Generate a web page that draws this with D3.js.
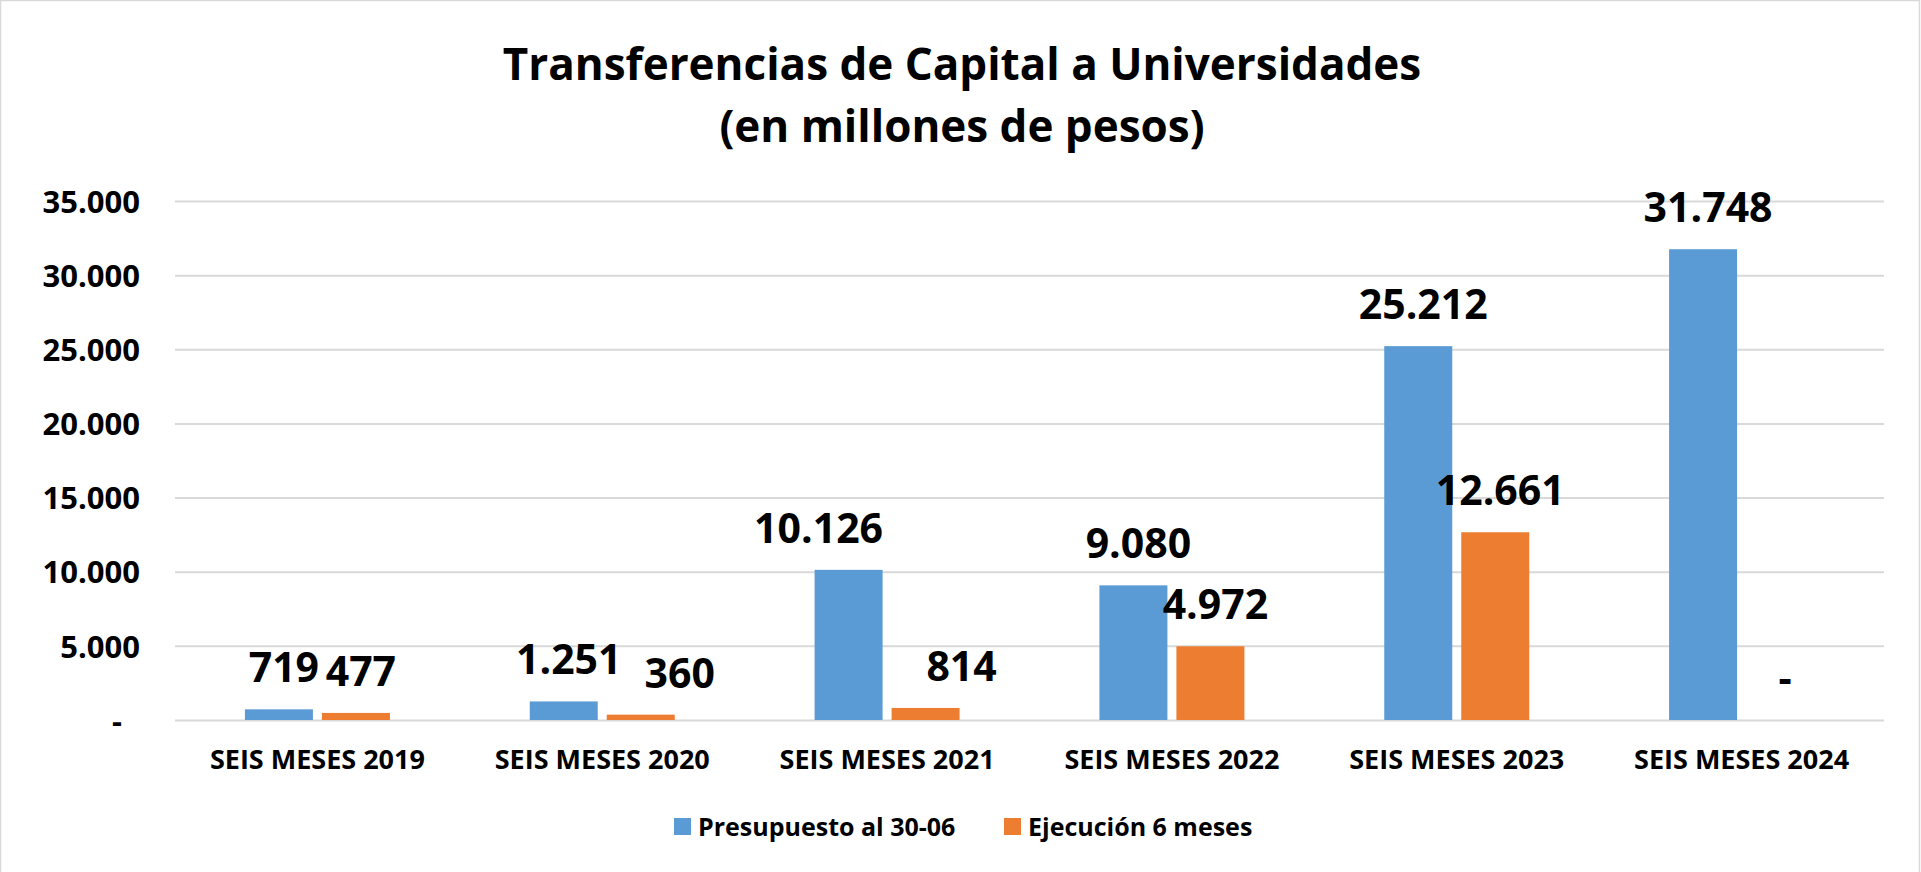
<!DOCTYPE html>
<html>
<head>
<meta charset="utf-8">
<script src="https://cdn.jsdelivr.net/npm/d3@7"></script>
<style>
  html, body { margin: 0; padding: 0; background: #fff; }
  svg { display: block; }
  text { font-family: "Open Sans", "Noto Sans", sans-serif; font-weight: 700; fill: #000; }
</style>
</head>
<body>
<svg id="chart" width="1921" height="872"></svg>
<script>
// ---- Data ----
const categories = ["SEIS MESES 2019", "SEIS MESES 2020", "SEIS MESES 2021", "SEIS MESES 2022", "SEIS MESES 2023", "SEIS MESES 2024"];
const seriesNames = ["Presupuesto al 30-06", "Ejecución 6 meses"];
const presupuesto = [719, 1251, 10126, 9080, 25212, 31748];
const ejecucion = [477, 360, 814, 4972, 12661, 0];
const yTicks = [0, 5000, 10000, 15000, 20000, 25000, 30000, 35000];
const titleLines = ["Transferencias de Capital a Universidades", "(en millones de pesos)"];

// ---- Layout / style ----
const W = 1921, H = 872;
const plot = { left: 175, right: 1884, top: 201, bottom: 720 };
const colors = ["#5B9BD5", "#ED7D31"];
// manual label nudges (as in the original, where some labels were dragged)
const labelNudge = { "1-1": 34, "2-0": -35, "2-1": 31 };

const svg = d3.select("#chart");
svg.append("rect").attr("x", 0.5).attr("y", 0.5).attr("width", W - 2).attr("height", H + 10)
  .attr("fill", "#fff").attr("stroke", "#D9D9D9").attr("stroke-width", 1.5);

const locale = d3.formatLocale({ decimal: ",", thousands: ".", grouping: [3], currency: ["$", ""] });
const fmt = v => v === 0 ? "-" : locale.format(",.0f")(v);

const x0 = d3.scaleBand().domain(categories).range([plot.left, plot.right]).paddingInner(0).paddingOuter(0);
const x1 = d3.scaleBand().domain([0, 1]).range([x0.bandwidth() / 2 - 72.5, x0.bandwidth() / 2 + 72.5]).paddingInner(0.117);
const y = d3.scaleLinear().domain([0, 35000]).range([plot.bottom, plot.top]);

// Gridlines
const grid = svg.append("g")
  .attr("transform", `translate(${plot.left},0)`)
  .call(d3.axisLeft(y).tickValues(yTicks).tickSize(-(plot.right - plot.left)).tickFormat(""));
grid.select(".domain").remove();
grid.selectAll(".tick line").attr("stroke", "#D9D9D9").attr("stroke-width", 2);

// Y axis labels
const yAxis = svg.append("g")
  .attr("transform", `translate(${plot.left - 35},0)`)
  .call(d3.axisLeft(y).tickValues(yTicks).tickSize(0).tickPadding(0).tickFormat(fmt));
yAxis.select(".domain").remove();
yAxis.selectAll(".tick text")
  .attr("font-size", 31)
  .attr("font-family", "'Open Sans', sans-serif")
  .attr("font-weight", 700)
  .attr("fill", "#000")
  .attr("dx", d => d === 0 ? -18 : 0)
  .attr("dy", "0.36em");

// X axis labels
const xAxis = svg.append("g")
  .attr("transform", `translate(0,${plot.bottom})`)
  .call(d3.axisBottom(x0).tickSize(0).tickPadding(0));
xAxis.select(".domain").remove();
xAxis.selectAll(".tick text")
  .attr("font-size", 27)
  .attr("font-family", "'Open Sans', sans-serif")
  .attr("font-weight", 700)
  .attr("fill", "#000")
  .attr("dy", 0)
  .attr("y", 49);

// Bars
const rows = categories.map((c, i) => ({ cat: c, i, vals: [presupuesto[i], ejecucion[i]] }));
const groups = svg.append("g").selectAll("g").data(rows).join("g")
  .attr("transform", d => `translate(${x0(d.cat)},0)`);

groups.selectAll("rect").data(d => d.vals.map((v, s) => ({ v, s, i: d.i }))).join("rect")
  .attr("x", d => x1(d.s))
  .attr("width", x1.bandwidth())
  .attr("y", d => y(d.v))
  .attr("height", d => y(0) - y(d.v))
  .attr("fill", d => colors[d.s]);

// Data labels
groups.selectAll("text.lbl").data(d => d.vals.map((v, s) => ({ v, s, i: d.i }))).join("text")
  .attr("class", "lbl")
  .attr("x", d => x1(d.s) + x1.bandwidth() / 2 + 5 + (labelNudge[`${d.i}-${d.s}`] || 0))
  .attr("y", d => y(d.v) - 27)
  .attr("text-anchor", "middle")
  .attr("font-size", 41)
  .text(d => fmt(d.v));

// Title
svg.append("g").selectAll("text").data(titleLines).join("text")
  .attr("x", 962)
  .attr("y", (d, i) => 80 + i * 62)
  .attr("text-anchor", "middle")
  .attr("font-size", 44)
  .text(d => d);

// Legend
const legend = svg.append("g").attr("transform", "translate(674,818)");
const legItems = legend.selectAll("g").data(seriesNames).join("g")
  .attr("transform", (d, i) => `translate(${i * 330},0)`);
legItems.append("rect").attr("width", 17).attr("height", 17).attr("fill", (d, i) => colors[i]);
legItems.append("text").attr("x", 24).attr("y", 8.5).attr("dy", "0.36em")
  .attr("font-size", 25).text(d => d);
</script>
</body>
</html>
